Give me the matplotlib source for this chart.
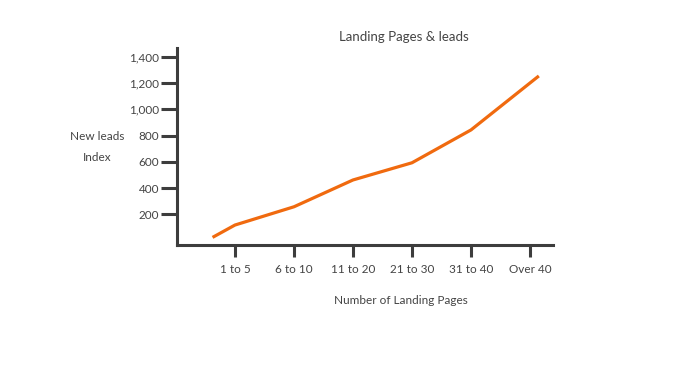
import matplotlib
matplotlib.use("Agg")
import matplotlib.pyplot as plt
from matplotlib.ticker import FuncFormatter

categories = ["1 to 5", "6 to 10", "11 to 20", "21 to 30", "31 to 40", "Over 40"]
# line x positions (in category units) and lead index values
line_x = [-0.38, 0, 1, 2, 3, 4, 5.15]
leads = [25, 119, 258, 462, 593, 843, 1254]
yticks = [200, 400, 600, 800, 1000, 1200, 1400]

plt.rcParams['font.family'] = ['Lato', 'DejaVu Sans']
dark = '#3d3d3d'
text_col = '#444444'

fig = plt.figure(figsize=(7, 3.72), dpi=100)
ax = fig.add_axes([0.2524, 0.3414, 0.5376, 0.5286])

ax.plot(line_x, leads, color='#f06a0f', linewidth=2.3, solid_capstyle='butt')

ax.set_xlim(-0.988, 5.39)
ax.set_ylim(-33, 1464)
ax.set_xticks(range(len(categories)))
ax.set_xticklabels(categories)
ax.set_yticks(yticks)
ax.yaxis.set_major_formatter(FuncFormatter(lambda v, p: '{:,.0f}'.format(v)))

for s in ['top', 'right']:
    ax.spines[s].set_visible(False)
for s in ['left', 'bottom']:
    ax.spines[s].set_linewidth(2.2)
    ax.spines[s].set_color(dark)

ax.tick_params(axis='y', length=11.5, width=2.2, color=dark, pad=1,
               labelsize=8.5, labelcolor=text_col)
ax.tick_params(axis='x', length=8.5, width=2.2, color=dark, pad=5,
               labelsize=8.5, labelcolor=text_col)

fig.text(404 / 700, 1 - 37 / 372, 'Landing Pages & leads', ha='center', va='center',
         fontsize=9.5, color=text_col)
fig.text(97 / 700, 1 - 137 / 372, 'New leads', ha='center', va='center',
         fontsize=8.5, color=text_col)
fig.text(97 / 700, 1 - 157 / 372, 'Index', ha='center', va='center',
         fontsize=8.5, color=text_col)
fig.text(401 / 700, 1 - 300 / 372, 'Number of Landing Pages', ha='center', va='center',
         fontsize=8.5, color=text_col)

fig.savefig('out.png', dpi=100)
